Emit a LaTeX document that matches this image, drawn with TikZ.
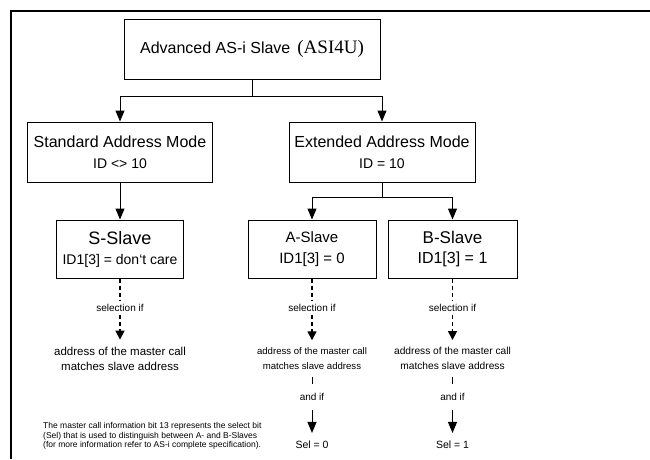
\documentclass[tikz,border=0pt]{standalone}
\usepackage{fontspec}
\setmainfont{Liberation Sans}
\newfontfamily\romanpart{Liberation Serif}
\usetikzlibrary{arrows.meta}
\usetikzlibrary{calc}

\begin{document}
\begin{tikzpicture}[x=1pt, y=-1pt,
  box/.style={draw, line width=1pt, align=center, inner sep=0pt},
  arrowline/.style={line width=1pt, -{Triangle[width=9pt,length=11pt]}},
  dashline/.style={line width=1.6pt, dash pattern=on 4pt off 3pt},
  txt/.style={align=center, inner xsep=0pt}]
 \useasboundingbox (0,0) rectangle (650,459);

 %frame
 \draw[line width=2pt] (11,459) -- (11,11) -- (650,11);

 %level 1
 \node[box, minimum width=256pt, minimum height=60pt] (top) at (252,49)
   {\fontsize{16}{19}\selectfont Advanced AS-i Slave\hspace{7pt}{\romanpart\fontsize{19}{19}\selectfont (ASI4U)}};

 %level 2
 \node[box, minimum width=185pt, minimum height=60pt] (std) at (120,152)
   {\fontsize{16}{19}\selectfont Standard Address Mode\\[9pt]\fontsize{14}{16}\selectfont ID <> 10};
 \node[box, minimum width=186pt, minimum height=60pt] (ext) at (382,152)
   {\fontsize{16}{19}\selectfont Extended Address Mode\\[9pt]\fontsize{14}{16}\selectfont ID = 10};

 %arrow
 \coordinate (split1) at (252,96);
 \draw[line width=1pt] (top.south) -- (split1);
 \draw[arrowline] (split1) -| (std.north);
 \draw[arrowline] (split1) -| (ext.north);

 %level 3
 \node[box, minimum width=127pt, minimum height=58pt] (slaves) at (120,249)
   {\fontsize{18}{20}\selectfont S-Slave\\[8pt]\fontsize{14}{16}\selectfont ID1[3] = don‘t care};
 \node[box, minimum width=128pt, minimum height=58pt] (slavea) at (312,249)
   {\fontsize{15}{17}\selectfont A-Slave\\[9pt]\fontsize{15}{17}\selectfont ID1[3] = 0};
 \node[box, minimum width=129pt, minimum height=58pt] (slaveb) at (452.5,249)
   {\fontsize{17}{19}\selectfont B-Slave\\[8pt]\fontsize{16}{18}\selectfont ID1[3] = 1};

 %arrow
 \coordinate (split2) at (382,197);
 \draw[arrowline] (std.south) -- (slaves.north);
 \draw[line width=1pt] (ext.south) -- (split2);
 \draw[arrowline] (split2) -| (slavea.north);
 \draw[arrowline] (split2) -| (slaveb.north);

 %selection
 \foreach \x/\n/\fs in {120/s/11.5, 312/a/9.6, 452.5/b/10.2} {
   \node[txt, inner ysep=3pt, font=\fontsize{10}{12}\selectfont] (sel\n) at (\x,308) {selection if};
   \node[txt, inner ysep=7pt, font=\fontsize{\fs}{15}\selectfont] (addr\n) at (\x,358.5)
     {address of the master call\\matches slave address};
   \draw[dashline] (slave\n.south) -- (sel\n.north);
   \draw[dashline, -{Triangle[width=9pt,length=9pt]}] (sel\n.south) -- (addr\n.north);
 }

 %and if
 \foreach \x/\n/\v in {312/a/0, 452.5/b/1} {
   \node[txt, inner ysep=9pt, font=\fontsize{10}{12}\selectfont] (and\n) at (\x,397) {and if};
   \node[txt, inner ysep=8pt, font=\fontsize{10.5}{12}\selectfont] (val\n) at (\x,445) {Sel = \v};
   \draw[line width=1pt] (addr\n.south) -- (and\n.north);
   \draw[arrowline] (and\n.south) -- (val\n.north);
 }

 %note
 \node[anchor=west, align=left, inner sep=0pt, font=\fontsize{8.5}{9.5}\selectfont] (note) at (43,436)
   {The master call information bit 13 represents the select bit\\
    (Sel) that is used to distinguish between A- and B-Slaves\\
    (for more information refer to AS-i complete specification).};
\end{tikzpicture}
\end{document}
